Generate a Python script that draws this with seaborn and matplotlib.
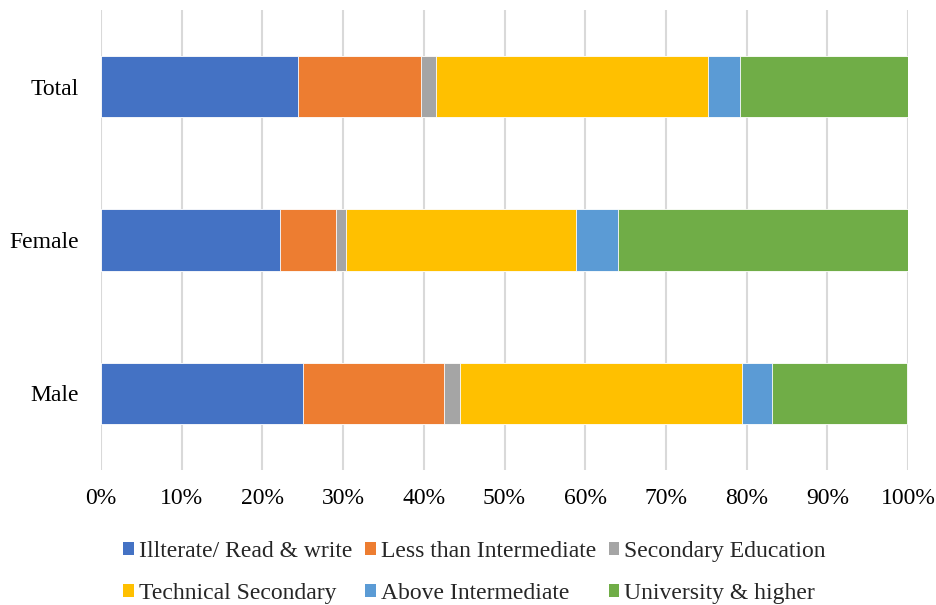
import seaborn as sns
import matplotlib.pyplot as plt
from matplotlib.patches import Patch
import numpy as np

groups = ['Total', 'Female', 'Male']
levels = ['Illterate/ Read & write', 'Less than Intermediate', 'Secondary Education',
          'Technical Secondary', 'Above Intermediate', 'University & higher']

# shares in % per group, order: Total, Female, Male
illiterate = [24.4, 22.2, 25.0]
less_inter = [15.3, 6.9, 17.5]
secondary = [1.8, 1.2, 2.0]
technical = [33.7, 28.5, 34.9]
above_inter = [4.0, 5.3, 3.7]
university = [20.8, 35.9, 16.8]

colors = ['#4472C4', '#ED7D31', '#A5A5A5', '#FFC000', '#5B9BD5', '#70AD47']

sns.set_theme(style='white')
plt.rcParams['font.family'] = ['Liberation Serif', 'DejaVu Serif']

fig = plt.figure(figsize=(9.36, 6.05), dpi=100)
ax = fig.add_axes([101 / 936, 1 - 470 / 605, 807 / 936, 460 / 605])

series = [illiterate, less_inter, secondary, technical, above_inter, university]
cum = np.cumsum(np.array(series), axis=0)

# stacked bars: draw cumulative totals from the right end backwards
for i in range(len(series) - 1, -1, -1):
    sns.barplot(x=cum[i], y=groups, order=groups, color=colors[i], orient='h',
                width=0.4, saturation=1, edgecolor='white', linewidth=0.6, ax=ax)

ax.set_xlim(0, 100)
ax.set_ylim(2.5, -0.5)
ax.set_xticks(np.arange(0, 101, 10))
ax.set_xticklabels([f'{t}%' for t in range(0, 101, 10)])
ax.set_xlabel('')
ax.set_ylabel('')
ax.grid(axis='x', color='#D9D9D9', linewidth=1.5)
ax.set_axisbelow(True)
for s in ax.spines.values():
    s.set_visible(False)
ax.tick_params(axis='x', length=0, pad=13, labelsize=17, colors='black')
ax.tick_params(axis='y', length=0, pad=16, labelsize=17, colors='black')

handles = [Patch(facecolor=c, edgecolor='none', label=l) for c, l in zip(colors, levels)]
order = [0, 3, 1, 4, 2, 5]
fig.legend([handles[k] for k in order], [levels[k] for k in order],
           loc='center', bbox_to_anchor=(0.507, 0.054), ncol=3, frameon=False,
           fontsize=17, handlelength=0.45, handleheight=0.45, handletextpad=0.2,
           columnspacing=0.55, labelspacing=0.9)

fig.savefig('out.png', dpi=100)
